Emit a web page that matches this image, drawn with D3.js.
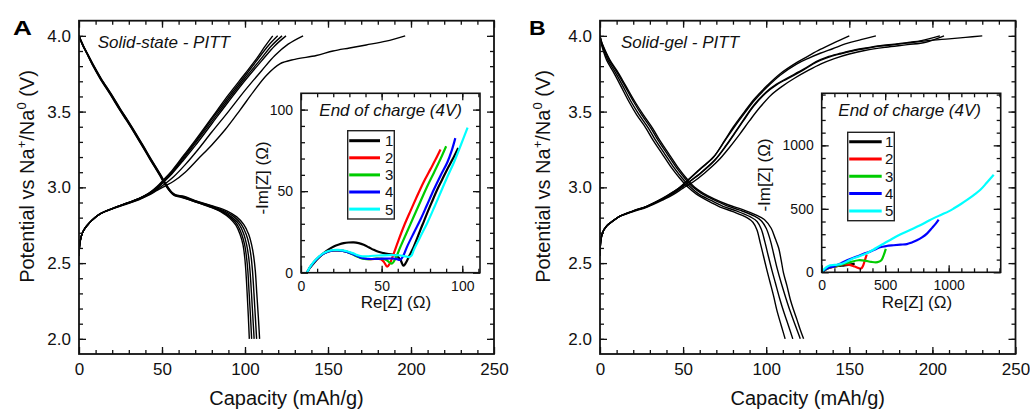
<!DOCTYPE html>
<html><head><meta charset="utf-8">
<script src="https://cdn.jsdelivr.net/npm/d3@7"></script>
<style>
body{margin:0;background:#fff;}
svg{display:block;font-family:"Liberation Sans",Arial,Helvetica,sans-serif;}
</style></head><body>
<svg id="c" width="1030" height="410"></svg>
<script>
// ---------------- DATA ----------------
const capTicks = [0, 50, 100, 150, 200, 250];
const voltTicks = [2.0, 2.5, 3.0, 3.5, 4.0];
const nyqTicksA = [0, 50, 100];
const nyqTicksB = [0, 500, 1000];
const cycleLabels = ["1", "2", "3", "4", "5"];
const panelLetters = ["A", "B"];
const panelTitles = ["Solid-state - PITT", "Solid-gel - PITT"];
const insetTitle = "End of charge (4V)";

// Panel A - charge (capacity mAh/g, potential V)
const chargeA1 = [[0,2.55],[0.4,2.62],[1.2,2.67],[2.5,2.71],[4.6,2.745],[8,2.785],[12.7,2.825],[20,2.86],[28.7,2.895],[36,2.925],[42,2.96],[47,3.005],[51,3.05],[56,3.11],[63,3.21],[70,3.31],[80,3.46],[90,3.61],[100,3.75],[107,3.85],[112,3.93],[116.7,4.0]];
const chargeA2 = [[0,2.55],[0.4,2.62],[1.2,2.67],[2.5,2.71],[4.6,2.745],[8,2.785],[12.7,2.825],[20,2.86],[28.7,2.895],[36,2.925],[42,2.96],[47,3.0],[51,3.045],[56,3.1],[63,3.2],[70,3.3],[80,3.45],[90,3.595],[100,3.735],[108,3.85],[114,3.935],[119.7,4.0]];
const chargeA3 = [[0,2.55],[0.4,2.62],[1.2,2.67],[2.5,2.71],[4.6,2.745],[8,2.785],[12.7,2.825],[20,2.86],[28.7,2.895],[36,2.925],[42,2.958],[47,2.995],[51,3.04],[56,3.095],[63,3.19],[70,3.29],[80,3.435],[90,3.58],[100,3.72],[109,3.84],[116,3.935],[122.3,4.0]];
const chargeA4 = [[0,2.55],[0.4,2.62],[1.2,2.67],[2.5,2.71],[4.6,2.745],[8,2.785],[12.7,2.825],[20,2.86],[28.7,2.894],[36,2.923],[42,2.955],[47,2.99],[51,3.035],[56,3.09],[63,3.18],[70,3.275],[80,3.42],[90,3.565],[100,3.705],[110,3.835],[118,3.935],[124.7,4.0]];
const chargeA5 = [[0,2.55],[0.4,2.62],[1.2,2.67],[2.5,2.71],[4.6,2.745],[8,2.785],[12.7,2.825],[20,2.858],[28.7,2.892],[36,2.92],[42,2.952],[47,2.985],[52,3.025],[57,3.07],[64,3.15],[71,3.24],[80,3.365],[90,3.5],[100,3.64],[110,3.77],[118,3.87],[126,3.945],[135,4.0]];
const chargeA6 = [[0,2.55],[0.4,2.62],[1.2,2.67],[2.5,2.71],[4.6,2.745],[8,2.785],[12.7,2.825],[20,2.858],[28.7,2.89],[36,2.918],[42,2.948],[47,2.98],[52,3.01],[57,3.04],[64,3.1],[72,3.19],[80,3.28],[88,3.38],[97,3.51],[105,3.63],[113,3.74],[121,3.815],[130,3.845],[143,3.87],[153,3.9],[163,3.92],[173,3.94],[185,3.965],[196.5,4.0]];
// Panel A - discharge
const dischargeA1 = [[0,4.0],[1,3.97],[2.5,3.93],[4.6,3.885],[8,3.81],[12.6,3.72],[18.7,3.615],[24,3.52],[28.7,3.44],[33,3.365],[38.7,3.26],[43,3.18],[48.8,3.075],[52,3.015],[55,2.97],[57.5,2.945],[61,2.935],[70,2.905],[79,2.87],[86,2.835],[91,2.795],[94.5,2.75],[97,2.69],[98.8,2.62],[99.8,2.54],[100.5,2.45],[101.3,2.3],[102,2.15],[102.6,2.0]];
const dischargeA2 = [[0,4.0],[1,3.97],[2.6,3.93],[4.7,3.885],[8.2,3.81],[12.8,3.72],[18.9,3.615],[24.2,3.52],[28.9,3.44],[33.2,3.365],[38.9,3.26],[43.2,3.18],[49,3.075],[52.2,3.015],[55.2,2.97],[57.8,2.947],[61.5,2.937],[70,2.905],[79,2.872],[86,2.84],[91.5,2.8],[95.5,2.75],[98,2.69],[99.8,2.62],[100.9,2.54],[101.7,2.45],[102.5,2.3],[103.3,2.15],[104,2.0]];
const dischargeA3 = [[0,4.0],[1,3.97],[2.7,3.93],[4.8,3.885],[8.3,3.81],[13,3.72],[19.1,3.615],[24.4,3.52],[29.1,3.44],[33.4,3.365],[39.1,3.26],[43.4,3.18],[49.2,3.075],[52.4,3.015],[55.4,2.97],[58,2.948],[62,2.938],[70,2.908],[80,2.872],[87,2.84],[92.5,2.8],[96.5,2.755],[99.3,2.69],[101,2.62],[102.2,2.54],[103,2.45],[103.9,2.3],[104.7,2.15],[105.5,2.0]];
const dischargeA4 = [[0,4.0],[1.1,3.97],[2.8,3.93],[4.9,3.885],[8.4,3.81],[13.1,3.72],[19.3,3.615],[24.6,3.52],[29.3,3.44],[33.6,3.365],[39.3,3.26],[43.6,3.18],[49.4,3.075],[52.6,3.015],[55.6,2.97],[58.2,2.949],[62.5,2.94],[70,2.91],[80,2.876],[88,2.842],[93.5,2.805],[97.8,2.755],[100.7,2.69],[102.5,2.62],[103.7,2.54],[104.5,2.45],[105.4,2.3],[106.2,2.15],[107,2.0]];
const dischargeA5 = [[0,4.0],[1.2,3.97],[2.9,3.93],[5,3.885],[8.6,3.81],[13.3,3.72],[19.5,3.615],[24.8,3.52],[29.5,3.44],[33.8,3.365],[39.5,3.26],[43.8,3.18],[49.6,3.075],[52.8,3.015],[55.8,2.97],[58.4,2.95],[63,2.942],[70,2.912],[81,2.876],[89,2.845],[95,2.805],[99.2,2.755],[102.2,2.69],[104,2.62],[105.3,2.54],[106.2,2.45],[107.1,2.3],[108,2.15],[108.8,2.0]];

// Panel B - charge
const chargeB1 = [[0,2.55],[0.4,2.64],[1.5,2.7],[4,2.745],[8,2.78],[12,2.81],[20,2.845],[28,2.875],[38,2.93],[44,2.97],[48,3.0],[53,3.05],[60,3.12],[68.3,3.2],[75,3.31],[80.3,3.4],[87,3.5],[93,3.585],[100.4,3.67],[108.4,3.75],[118.5,3.825],[125,3.865],[132.5,3.91],[141,3.955],[150,4.0]];
const chargeB2 = [[0,2.55],[0.4,2.64],[1.5,2.7],[4,2.745],[8,2.78],[12,2.81],[20,2.845],[28,2.875],[38,2.928],[44,2.968],[48,2.998],[53,3.047],[60,3.117],[68.3,3.2],[75,3.305],[80.3,3.39],[87,3.49],[93,3.575],[100.4,3.66],[108.4,3.74],[118.5,3.815],[125,3.85],[132.5,3.885],[140,3.915],[148.6,3.95],[157,3.975],[166,4.0]];
const chargeB3 = [[0,2.55],[0.4,2.64],[1.5,2.7],[4,2.745],[8,2.78],[12,2.81],[20,2.843],[28,2.872],[38,2.925],[44,2.962],[49,3.0],[54,3.04],[61,3.1],[69,3.18],[76,3.28],[81,3.36],[86,3.44],[92.4,3.54],[100,3.63],[106,3.68],[112.4,3.72],[122.5,3.78],[130,3.83],[136.5,3.86],[145,3.885],[152.5,3.905],[160,3.92],[168.6,3.935],[177,3.945],[184.7,3.955],[194,3.97],[204.5,4.0]];
const chargeB4 = [[0,2.55],[0.4,2.64],[1.5,2.7],[4,2.745],[8,2.78],[12,2.81],[20,2.843],[28,2.872],[38,2.924],[44,2.96],[49,2.998],[54,3.038],[61,3.097],[69,3.177],[76,3.275],[81,3.355],[86,3.435],[92.4,3.535],[100,3.625],[106,3.675],[112.4,3.715],[122.5,3.775],[130,3.825],[136.5,3.855],[145,3.882],[152.5,3.902],[160,3.917],[168.6,3.932],[177,3.942],[184.7,3.952],[192,3.962],[200.4,3.972],[210,3.98],[220,3.99],[230,4.0]];
const chargeB5 = [[0,2.55],[0.4,2.64],[1.5,2.7],[4,2.745],[8,2.78],[12,2.808],[20,2.84],[28,2.868],[38,2.918],[44,2.952],[50,2.995],[56,3.035],[63,3.095],[71,3.175],[78,3.265],[84,3.35],[90,3.44],[96,3.525],[103,3.61],[110,3.67],[117,3.72],[125,3.77],[133,3.815],[141,3.85],[150,3.88],[160,3.905],[172,3.925],[185,3.942],[196,3.958],[207,4.0]];
// Panel B - discharge
const dischargeB1 = [[0,4.0],[0.5,3.96],[2,3.9],[4,3.84],[7.6,3.77],[12,3.68],[17.7,3.56],[22,3.48],[27.7,3.39],[32,3.31],[37.8,3.215],[43,3.13],[48,3.06],[53,3.0],[58,2.955],[65,2.91],[72.3,2.87],[80,2.84],[88.4,2.8],[92,2.77],[94.4,2.72],[96.5,2.63],[98.4,2.545],[100.5,2.45],[102.4,2.37],[104.5,2.28],[106.4,2.19],[109,2.09],[111.4,2.0]];
const dischargeB2 = [[0,4.0],[0.7,3.96],[2.5,3.9],[4.8,3.84],[8.6,3.77],[13.2,3.68],[19,3.56],[23.5,3.48],[29.2,3.39],[33.5,3.31],[39.3,3.215],[44.5,3.13],[49.5,3.06],[54.5,3.0],[59.5,2.955],[66.5,2.915],[74,2.875],[82,2.845],[90.5,2.805],[94.5,2.775],[97,2.725],[99.2,2.64],[101.2,2.55],[103.5,2.45],[105.5,2.37],[108,2.27],[110.5,2.18],[113.3,2.09],[116,2.0]];
const dischargeB3 = [[0,4.0],[0.9,3.96],[3,3.9],[5.6,3.84],[9.6,3.77],[14.4,3.68],[20.5,3.56],[25,3.48],[30.7,3.39],[35,3.31],[40.8,3.215],[46,3.13],[51,3.06],[56,3.0],[61,2.96],[68,2.92],[76,2.88],[84,2.85],[93,2.81],[97,2.78],[100,2.73],[102.5,2.65],[104.5,2.56],[106.7,2.46],[109,2.37],[111.8,2.27],[114.5,2.18],[117.5,2.09],[120.5,2.0]];
const dischargeB4 = [[0,4.0],[1,3.96],[3.3,3.9],[6,3.84],[10.2,3.77],[15,3.68],[21.3,3.56],[26,3.48],[31.7,3.39],[36,3.31],[41.8,3.215],[47,3.13],[52,3.06],[57,3.0],[62,2.962],[69,2.922],[77,2.885],[85.5,2.855],[94.4,2.815],[99,2.786],[103,2.73],[105.5,2.66],[107.5,2.6],[109,2.52],[110.4,2.435],[112.5,2.35],[114.5,2.26],[116.5,2.19],[118.5,2.127],[120.5,2.06],[122.5,2.0]];

// Inset A - Nyquist (Re[Z], -Im[Z]) in ohm
const nyqA1 = [[3.7,0],[5.5,3],[7.9,5.8],[11,9.2],[14.1,12],[17,14.2],[20.3,16.1],[23.5,17.3],[26.5,18.1],[29.5,18.5],[32.7,18.6],[35.8,18.1],[38.9,17.1],[42,15.6],[45.1,14],[48,12.8],[51.3,12],[54.5,11.4],[57.6,10.9],[60,9.8],[61.7,7.8],[63.5,4.3],[64.5,5.2],[65.8,7.5],[68,12],[70,16.1],[72,21],[74.1,26.4],[76.2,31.5],[78.3,36.7],[81,43],[84.5,51],[87.5,57],[90.7,63.5],[94,69.5],[97.5,76.5]];
const nyqA2 = [[3.7,0],[5.5,3.2],[8,6.5],[11,9.5],[14,11.7],[17,13],[20,13.6],[23,13.7],[26,13.4],[29,12.6],[32,11.5],[35,10.2],[38,9],[41,8.4],[44,8.3],[47,8.5],[49.5,8.3],[51.5,6.5],[53.4,3.7],[55,5.5],[57.6,12],[60.5,20],[63.8,28.5],[67.5,37],[72,47],[76,55.5],[80.3,63.5],[83.5,69.5],[86.5,75.5]];
const nyqA3 = [[3.7,0],[5.5,3.2],[8,6.5],[11,9.5],[14,11.7],[17,13],[20,13.6],[23,13.7],[26,13.4],[29,12.6],[32,11.3],[35,9.8],[38,8.6],[41,8.3],[44,8.4],[47,8.6],[50,8.6],[53,7.8],[55,6.2],[56.5,5.6],[58.5,8.5],[61.7,16],[65.5,24.5],[70,34.6],[74,43.5],[78.3,53],[82.5,61.5],[86.5,69.7],[90,77.5]];
const nyqA4 = [[3.7,0],[5.5,3.2],[8,6.5],[11,9.5],[14,11.7],[17,13],[20,13.6],[23,13.7],[26,13.4],[29,12.6],[32,11.5],[35,10.2],[38,9],[41,8.5],[44,8.4],[48,8.5],[52,8.6],[56,8.7],[59,8.5],[61.5,7.9],[63.5,10.5],[65.8,16],[70,24.5],[74.1,32.6],[78,41.2],[82.4,51],[86.5,59.5],[90.7,67.6],[93.5,75],[95.7,82.5]];
const nyqA5 = [[3.7,0],[5.5,3.4],[8,6.8],[11,9.8],[14,12],[17,13.3],[20,13.9],[23,14],[26,13.7],[29,13],[32,12],[35,10.8],[38,10],[41,10.1],[45,10.4],[50,10.6],[55,10.8],[60,10.7],[64,10.2],[67,9.6],[68.5,10.5],[70,14],[74,22],[78.3,30.5],[82.5,39.8],[86.5,49],[90.5,58.2],[94.8,67.6],[99,78],[103.3,89]];
// Inset B - Nyquist
const nyqB1 = [[0,0],[15,12],[40,28],[80,42],[130,50],[180,55],[230,62],[260,68]];
const nyqB2 = [[0,0],[20,15],[50,32],[100,45],[170,62],[220,58],[260,45],[290,33],[310,30],[325,50],[340,95],[355,140]];
const nyqB3 = [[0,0],[20,16],[50,33],[100,46],[170,65],[230,82],[290,95],[340,92],[390,82],[440,80],[470,95],[490,140],[505,185]];
const nyqB4 = [[0,0],[20,18],[50,35],[92,45],[150,70],[200,95],[276,124],[330,145],[382,163],[420,180],[460,197],[510,207],[566,213],[620,218],[671,222],[710,235],[750,252],[790,275],[829,305],[870,350],[900,385],[921,415]];
const nyqB5 = [[0,0],[13,18],[40,42],[66,55],[100,58],[150,64],[200,85],[250,110],[300,128],[355,150],[410,180],[460,210],[540,255],[618,298],[700,335],[776,370],[850,410],[934,450],[1000,480],[1039,502],[1100,540],[1145,570],[1200,610],[1250,650],[1300,705],[1355,768]];

// ---------------- DRAWING ----------------
const svg = d3.select("#c");
const cycleColors = ["#000000", "#ff0000", "#00cc00", "#0000ff", "#00ffff"];
const FONT = '"Liberation Sans",Arial,Helvetica,sans-serif';

function styleAxis(sel, fs) {
  sel.select(".domain").remove();
  sel.selectAll(".tick line").attr("stroke", "#111").attr("stroke-width", 1.3);
  sel.selectAll(".tick text").attr("font-size", fs).attr("fill", "#111").attr("font-family", FONT);
}

function drawAxes(g, x, y, o) {
  const [xa, xb] = x.range(), [yb, ya] = y.range();
  // minor ticks all sides
  g.append("g").attr("transform", `translate(0,${yb})`).call(d3.axisBottom(x).tickValues(o.xMinor).tickSize(-o.minor).tickFormat("")).call(styleAxis, o.fs);
  g.append("g").attr("transform", `translate(0,${ya})`).call(d3.axisTop(x).tickValues(o.xMinor).tickSize(-o.minor).tickFormat("")).call(styleAxis, o.fs);
  g.append("g").attr("transform", `translate(${xa},0)`).call(d3.axisLeft(y).tickValues(o.yMinor).tickSize(-o.minor).tickFormat("")).call(styleAxis, o.fs);
  g.append("g").attr("transform", `translate(${xb},0)`).call(d3.axisRight(y).tickValues(o.yMinor).tickSize(-o.minor).tickFormat("")).call(styleAxis, o.fs);
  // major
  g.append("g").attr("transform", `translate(0,${yb})`).call(d3.axisBottom(x).tickValues(o.xMajor).tickSize(-o.major).tickPadding(o.padX).tickFormat(o.fmtX)).call(styleAxis, o.fs);
  g.append("g").attr("transform", `translate(0,${ya})`).call(d3.axisTop(x).tickValues(o.xMajor).tickSize(-o.major).tickFormat("")).call(styleAxis, o.fs);
  g.append("g").attr("transform", `translate(${xa},0)`).call(d3.axisLeft(y).tickValues(o.yMajor).tickSize(-o.major).tickPadding(o.padY).tickFormat(o.fmtY)).call(styleAxis, o.fs);
  g.append("g").attr("transform", `translate(${xb},0)`).call(d3.axisRight(y).tickValues(o.yMajor).tickSize(-o.major).tickFormat("")).call(styleAxis, o.fs);
  // frame
  g.append("rect").attr("x", xa).attr("y", ya).attr("width", xb - xa).attr("height", yb - ya)
    .attr("fill", "none").attr("stroke", "#111").attr("stroke-width", o.frameW);
}

function drawPanel(p) {
  const g = svg.append("g");
  const x = d3.scaleLinear().domain([0, 250]).range([p.left, p.right]);
  const y = d3.scaleLinear().domain([1.9, 4.1]).range([354, 20.7]);
  const line = d3.line().x(d => x(d[0])).y(d => y(d[1])).curve(d3.curveCatmullRom.alpha(0.5));
  const clipId = "clip" + p.letter;
  g.append("clipPath").attr("id", clipId).append("rect")
    .attr("x", p.left).attr("y", 20.7).attr("width", p.right - p.left).attr("height", 354 - 20.7);
  const cg = g.append("g").attr("clip-path", `url(#${clipId})`);
  p.curves.forEach(c => {
    cg.append("path").attr("d", line(c)).attr("fill", "none").attr("stroke", "#000").attr("stroke-width", 1.4);
  });
  drawAxes(g, x, y, {
    xMinor: d3.range(10, 250, 10), yMinor: d3.range(2.0, 4.05, 0.1).map(v => +v.toFixed(2)),
    xMajor: capTicks, yMajor: voltTicks, minor: 4, major: 7, padX: 9, padY: 8,
    fmtX: d3.format("d"), fmtY: d3.format(".1f"), fs: 17, frameW: 1.8
  });
  // titles
  g.append("text").attr("x", (p.left + p.right) / 2).attr("y", 405).attr("text-anchor", "middle")
    .attr("font-size", 20).attr("fill", "#111").text("Capacity (mAh/g)");
  const yt = g.append("text").attr("transform", `translate(${p.yTitleX},176.5) rotate(-90)`)
    .attr("text-anchor", "middle").attr("font-size", 20).attr("fill", "#111");
  yt.append("tspan").text("Potential vs Na");
  yt.append("tspan").attr("dy", -8).attr("font-size", 13).text("+");
  yt.append("tspan").attr("dy", 8).text("/Na");
  yt.append("tspan").attr("dy", -8).attr("font-size", 13).text("0");
  yt.append("tspan").attr("dy", 8).text(" (V)");
  g.append("text").attr("x", p.titleX).attr("y", 48).attr("font-size", 17).attr("font-style", "italic")
    .attr("fill", "#111").text(p.title);
  g.append("text").attr("transform", `translate(${p.letterX},35) scale(${p.letterScale},1)`)
    .attr("font-size", 21).attr("font-weight", "bold").attr("fill", "#000").text(p.letter);
  return g;
}

function drawInset(p) {
  const g = svg.append("g");
  const x = d3.scaleLinear().domain([0, p.xMax]).range([p.left, p.right]);
  const y = d3.scaleLinear().domain([0, p.yMax]).range([p.bottom, p.top]);
  g.append("rect").attr("x", p.left).attr("y", p.top).attr("width", p.right - p.left).attr("height", p.bottom - p.top).attr("fill", "#fff");
  const line = d3.line().x(d => x(d[0])).y(d => y(d[1])).curve(d3.curveCatmullRom.alpha(0.5));
  const clipId = "iclip" + p.id;
  g.append("clipPath").attr("id", clipId).append("rect")
    .attr("x", p.left).attr("y", p.top).attr("width", p.right - p.left).attr("height", p.bottom - p.top);
  const cg = g.append("g").attr("clip-path", `url(#${clipId})`);
  p.curves.forEach((c, i) => {
    cg.append("path").attr("d", line(c)).attr("fill", "none").attr("stroke", cycleColors[i])
      .attr("stroke-width", 2.2).attr("stroke-linejoin", "round");
  });
  drawAxes(g, x, y, {
    xMinor: d3.range(p.minorStep, p.xMax, p.minorStep), yMinor: d3.range(p.minorStep, p.yMax, p.minorStep),
    xMajor: p.ticks, yMajor: p.ticks, minor: 4, major: 7, padX: 8, padY: 8,
    fmtX: d3.format("d"), fmtY: d3.format("d"), fs: 14, frameW: 1.6
  });
  g.append("text").attr("x", p.titleX).attr("y", 115.5).attr("font-size", 17).attr("font-style", "italic")
    .attr("fill", "#111").text(insetTitle);
  g.append("text").attr("x", p.xLabelX).attr("y", 307.5).attr("text-anchor", "middle")
    .attr("font-size", 17).attr("fill", "#111").text("Re[Z] (\u03A9)");
  g.append("text").attr("transform", `translate(${p.yLabelX},${p.yLabelY}) rotate(-90)`).attr("text-anchor", "middle")
    .attr("font-size", 17).attr("fill", "#111").text("-Im[Z] (\u03A9)");
  // legend
  const L = p.legend;
  g.append("rect").attr("x", L.x).attr("y", L.y).attr("width", L.w).attr("height", L.h)
    .attr("fill", "#fff").attr("stroke", "#222").attr("stroke-width", 1.4);
  cycleLabels.forEach((lab, i) => {
    const yy = L.row0 + i * L.step;
    g.append("line").attr("x1", L.x + 1.5).attr("x2", L.lineEnd).attr("y1", yy).attr("y2", yy)
      .attr("stroke", cycleColors[i]).attr("stroke-width", 3);
    g.append("text").attr("x", L.textX).attr("y", yy).attr("dy", "0.36em").attr("font-size", 15)
      .attr("fill", "#111").text(lab);
  });
}

drawPanel({ letter: panelLetters[0], left: 79, right: 494, yTitleX: 33.5, titleX: 97.7, title: panelTitles[0], letterX: 13, letterScale: 1.25,
  curves: [chargeA1, chargeA2, chargeA3, chargeA4, chargeA5, chargeA6, dischargeA1, dischargeA2, dischargeA3, dischargeA4, dischargeA5] });
drawPanel({ letter: panelLetters[1], left: 600, right: 1015.5, yTitleX: 550, titleX: 621, title: panelTitles[1], letterX: 529, letterScale: 1.1,
  curves: [chargeB1, chargeB2, chargeB3, chargeB4, chargeB5, dischargeB1, dischargeB2, dischargeB3, dischargeB4] });

drawInset({ id: "A", left: 301, right: 480, top: 93.3, bottom: 272.7, xMax: 111, yMax: 110, ticks: nyqTicksA, minorStep: 10,
  curves: [nyqA1, nyqA2, nyqA3, nyqA4, nyqA5], titleX: 319.3, xLabelX: 396, yLabelX: 267.5, yLabelY: 178,
  legend: { x: 347.7, y: 130.7, w: 46.6, h: 88.3, row0: 140.7, step: 17.1, lineEnd: 380, textX: 385 } });
drawInset({ id: "B", left: 821.7, right: 1000.7, top: 93.3, bottom: 272.3, xMax: 1410, yMax: 1410, ticks: nyqTicksB, minorStep: 100,
  curves: [nyqB1, nyqB2, nyqB3, nyqB4, nyqB5], titleX: 838.3, xLabelX: 917, yLabelX: 770, yLabelY: 175,
  legend: { x: 847.7, y: 132.3, w: 46.6, h: 88.4, row0: 141.7, step: 17.3, lineEnd: 881.7, textX: 885 } });
</script>
</body></html>
